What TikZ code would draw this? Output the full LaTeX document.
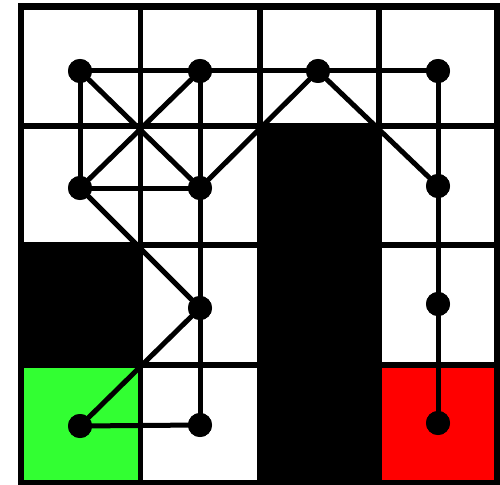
\documentclass[tikz,border=0pt]{standalone}
\begin{document}
\begin{tikzpicture}[x=0.75pt,y=-0.75pt,
  gridline/.style={line width=4.1pt},
  border/.style={line width=4.8pt},
  edge/.style={line width=3.75pt},
  vertex/.style={circle,fill=black,inner sep=0pt,minimum size=18pt},
  wall/.style={fill=black},
]
\definecolor{startgreen}{RGB}{50,255,50}
\definecolor{goalred}{RGB}{255,0,0}
\useasboundingbox (0,0) rectangle (500,485);
\fill[white] (0,0) rectangle (500,485);
% cells
\fill[wall] (21,245) rectangle (140.5,365);
\fill[wall] (260,126) rectangle (379,483);
\fill[startgreen] (21,365) rectangle (140.5,483);
\fill[goalred] (379,365) rectangle (497,483);
% grid
\foreach \x in {140.5,260,379} \draw[gridline] (\x,6.5) -- (\x,483);
\foreach \y in {126,245,365} \draw[gridline] (21,\y) -- (497,\y);
\draw[border] (21,6.5) rectangle (497,483);
% vertices
\node[vertex] (a00) at (80,71) {};
\node[vertex] (a01) at (200,71) {};
\node[vertex] (a02) at (318,71) {};
\node[vertex] (a03) at (438,71) {};
\node[vertex] (a10) at (80,188) {};
\node[vertex] (a11) at (200,188) {};
\node[vertex] (a13) at (438,186) {};
\node[vertex] (a21) at (200,308) {};
\node[vertex] (a23) at (438,304) {};
\node[vertex] (a30) at (80,426) {};
\node[vertex] (a31) at (200,425) {};
\node[vertex] (a33) at (438,423) {};
% edges
\draw[edge] (a00.center) -- (a01.center);
\draw[edge] (a01.center) -- (a02.center);
\draw[edge] (a02.center) -- (a03.center);
\draw[edge] (a00.center) -- (a10.center);
\draw[edge] (a00.center) -- (a11.center);
\draw[edge] (a01.center) -- (a10.center);
\draw[edge] (a01.center) -- (a11.center);
\draw[edge] (a10.center) -- (a11.center);
\draw[edge] (a11.center) -- (a02.center);
\draw[edge] (a02.center) -- (a13.center);
\draw[edge] (a03.center) -- (a13.center);
\draw[edge] (a13.center) -- (a23.center);
\draw[edge] (a23.center) -- (a33.center);
\draw[edge] (a10.center) -- (a21.center);
\draw[edge] (a11.center) -- (a21.center);
\draw[edge] (a21.center) -- (a30.center);
\draw[edge] (a21.center) -- (a31.center);
\draw[edge] (a30.center) -- (a31.center);
% redraw vertices on top
\foreach \n in {a00,a01,a02,a03,a10,a11,a13,a21,a23,a30,a31,a33}
  \fill (\n) circle (9pt);
\end{tikzpicture}
\end{document}
